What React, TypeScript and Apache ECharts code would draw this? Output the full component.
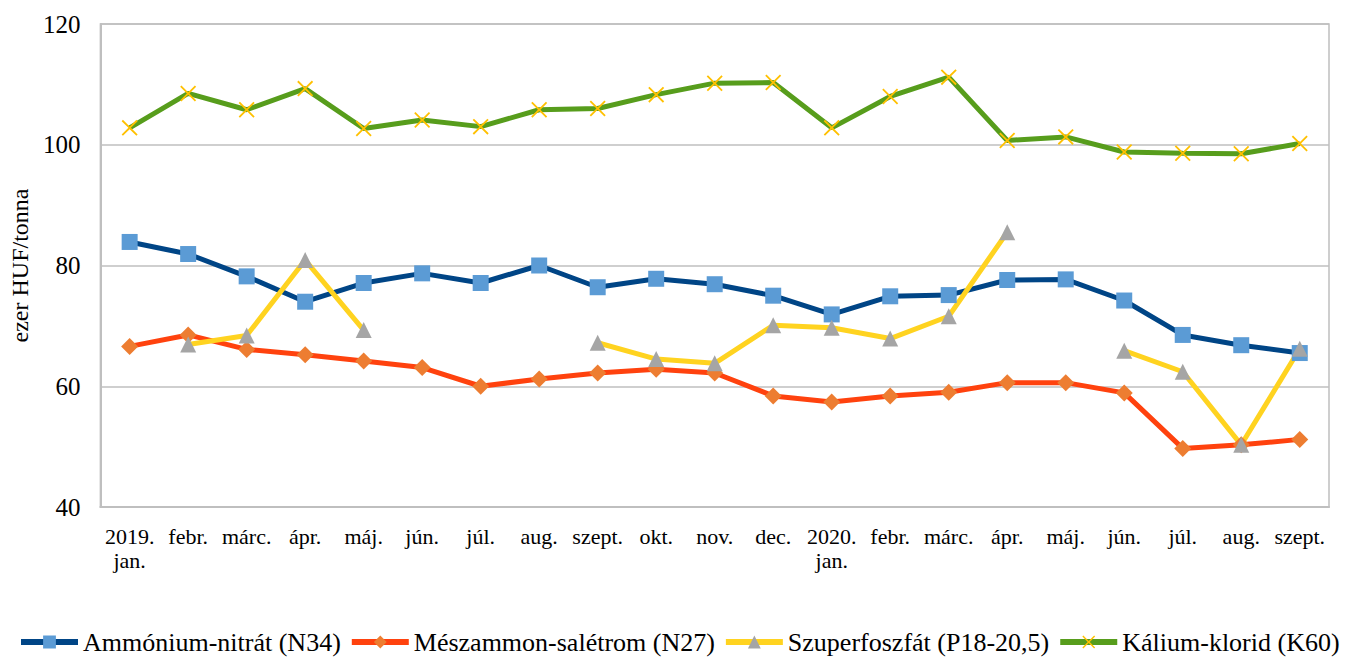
import React, { useEffect, useRef } from "react";
import * as echarts from "echarts";

const categories = [
  "2019.\njan.", "febr.", "márc.", "ápr.", "máj.", "jún.", "júl.", "aug.", "szept.", "okt.", "nov.", "dec.",
  "2020.\njan.", "febr.", "márc.", "ápr.", "máj.", "jún.", "júl.", "aug.", "szept.",
];

const ammoniumNitrat = [83.9, 81.9, 78.2, 74.0, 77.1, 78.7, 77.1, 80.0, 76.4, 77.8, 76.9, 75.0, 71.9, 74.9, 75.1, 77.6, 77.7, 74.2, 68.5, 66.8, 65.5];
const meszammonSaletrom = [66.6, 68.5, 66.1, 65.2, 64.2, 63.1, 60.0, 61.2, 62.2, 62.8, 62.2, 58.4, 57.4, 58.4, 59.0, 60.6, 60.6, 58.9, 49.7, 50.3, 51.2];
const szuperfoszfat = [null, 66.9, 68.4, 80.9, 69.3, null, null, null, 67.2, 64.5, 63.8, 70.1, 69.7, 67.9, 71.6, 85.5, null, 65.9, 62.4, 50.3, 66.2];
const kaliumKlorid = [102.8, 108.5, 105.8, 109.3, 102.7, 104.1, 103.0, 105.8, 106.0, 108.3, 110.2, 110.3, 102.8, 108.0, 111.2, 100.7, 101.3, 98.8, 98.6, 98.5, 100.2];

const seriesNames = [
  "Ammónium-nitrát (N34)",
  "Mészammon-salétrom (N27)",
  "Szuperfoszfát (P18-20,5)",
  "Kálium-klorid (K60)",
];

const yTicks = { min: 40, max: 120, interval: 20 };

const FONT = "Liberation Serif";
const X_PATH =
  "path://M0,0.8 L0.8,0 L5,4.2 L9.2,0 L10,0.8 L5.8,5 L10,9.2 L9.2,10 L5,5.8 L0.8,10 L0,9.2 L4.2,5 Z";

export default function App() {
  const ref = useRef<HTMLDivElement>(null);
  useEffect(() => {
    document.body.style.margin = "0";
    if (!ref.current) return;
    const chart = echarts.init(ref.current, undefined, { renderer: "svg" });
    const mk = (
      name: string,
      data: (number | null)[],
      lineColor: string,
      markColor: string,
      symbol: string,
      size: number
    ) => ({
      name,
      type: "line",
      data,
      connectNulls: false,
      symbol,
      symbolSize: size,
      showAllSymbol: true,
      lineStyle: { color: lineColor, width: 5 },
      itemStyle: { color: markColor, borderWidth: 0 },
      color: lineColor,
      emphasis: { disabled: true },
    });
    const legendItem = (name: string, lineColor: string, markColor: string) => ({
      name,
      itemStyle: { color: markColor, borderWidth: 0 },
      lineStyle: { color: lineColor, width: 6 },
    });
    chart.setOption({
      animation: false,
      backgroundColor: "#ffffff",
      textStyle: { fontFamily: FONT },
      grid: {
        left: 98,
        right: 20,
        top: 24,
        bottom: 152,
        show: true,
        borderColor: "#BFBFBF",
        borderWidth: 1.5,
      },
      xAxis: {
        type: "category",
        data: categories,
        boundaryGap: true,
        axisLine: { show: true, lineStyle: { color: "#BFBFBF", width: 2 } },
        axisTick: { show: false },
        axisLabel: {
          color: "#000",
          fontSize: 22,
          fontFamily: FONT,
          lineHeight: 24,
          margin: 17,
          interval: 0,
        },
      },
      yAxis: {
        type: "value",
        min: yTicks.min,
        max: yTicks.max,
        interval: yTicks.interval,
        name: "ezer HUF/tonna",
        nameLocation: "middle",
        nameGap: 62,
        nameRotate: 90,
        nameTextStyle: { color: "#000", fontSize: 24, fontFamily: FONT },
        axisLine: { show: true, lineStyle: { color: "#BFBFBF", width: 2 } },
        axisTick: { show: false },
        splitLine: { show: true, lineStyle: { color: "#BFBFBF", width: 1.5 } },
        axisLabel: { color: "#000", fontSize: 25, fontFamily: FONT, margin: 20 },
      },
      legend: {
        show: true,
        left: 13,
        top: 624,
        itemWidth: 57,
        itemHeight: 16,
        itemGap: 8,
        lineStyle: { width: 6 },
        textStyle: { color: "#000", fontSize: 26, fontFamily: FONT },
        data: [
          legendItem(seriesNames[0], "#004586", "#5B9BD5"),
          legendItem(seriesNames[1], "#FF420E", "#ED7D31"),
          legendItem(seriesNames[2], "#FFD320", "#A5A5A5"),
          legendItem(seriesNames[3], "#579D1C", "#FFC000"),
        ],
      },
      series: [
        mk(seriesNames[0], ammoniumNitrat, "#004586", "#5B9BD5", "rect", 16),
        mk(seriesNames[1], meszammonSaletrom, "#FF420E", "#ED7D31", "diamond", 17),
        mk(seriesNames[2], szuperfoszfat, "#FFD320", "#A5A5A5", "triangle", 16),
        mk(seriesNames[3], kaliumKlorid, "#579D1C", "#FFC000", X_PATH, 16),
      ],
    });
    return () => chart.dispose();
  }, []);
  return <div ref={ref} style={{ width: 1349, height: 659 }} />;
}
